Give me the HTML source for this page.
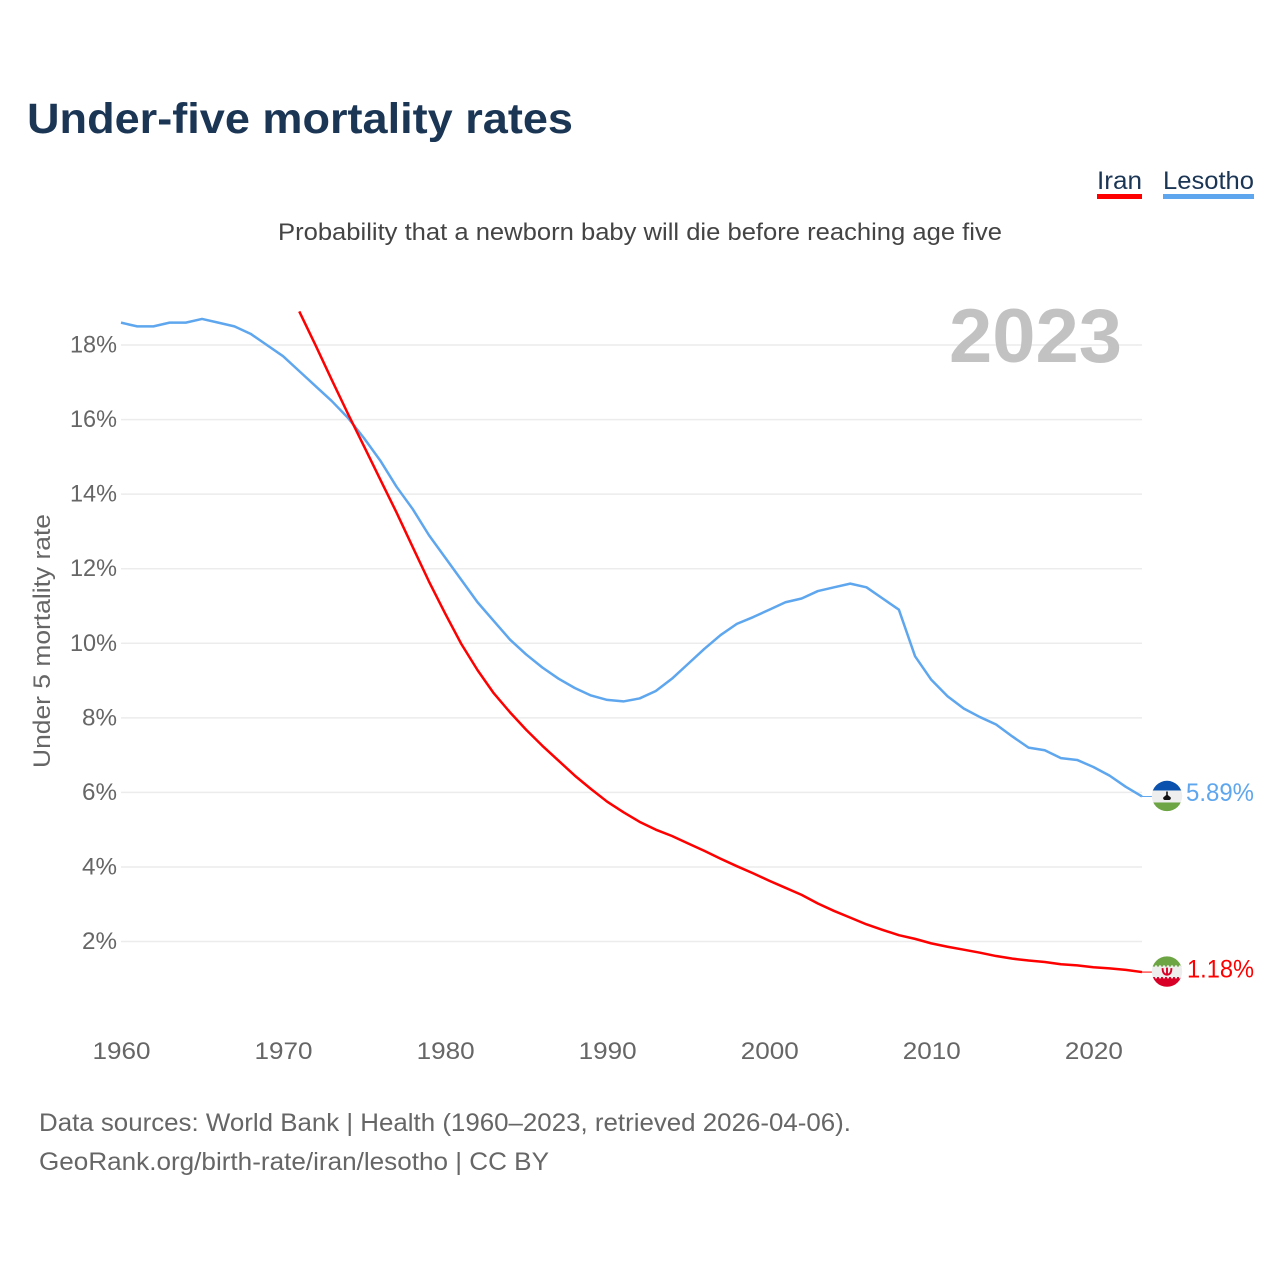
<!DOCTYPE html>
<html lang="en">
<head>
<meta charset="utf-8">
<title>Under-five mortality rates</title>
<style>
html,body{margin:0;padding:0;background:#fff;width:1280px;height:1280px;overflow:hidden}
svg{display:block;font-family:"Liberation Sans",sans-serif}
</style>
</head>
<body>
<svg id="chart" width="1280" height="1280" viewBox="0 0 1280 1280" xmlns="http://www.w3.org/2000/svg">
  <defs>
    <clipPath id="clip-lesotho"><circle id="clip-lesotho-circle" cx="1167" cy="795.5" r="15.2"/></clipPath>
    <clipPath id="clip-iran"><circle id="clip-iran-circle" cx="1167" cy="971.5" r="15.2"/></clipPath>
  </defs>
  <rect width="1280" height="1280" fill="#fff"/>
  <text x="27" y="133" font-size="43" font-weight="700" fill="#1b3555" textLength="546" lengthAdjust="spacingAndGlyphs">Under-five mortality rates</text>
  <text x="278" y="240" font-size="24" fill="#444" textLength="724" lengthAdjust="spacingAndGlyphs">Probability that a newborn baby will die before reaching age five</text>

  <g>
    <text x="1097" y="189" font-size="25" fill="#1b3555" textLength="45" lengthAdjust="spacingAndGlyphs">Iran</text>
    <rect x="1097" y="194" width="45" height="5" fill="#ff0000"/>
  </g>
  <g>
    <text x="1163" y="189" font-size="25" fill="#1b3555" textLength="91" lengthAdjust="spacingAndGlyphs">Lesotho</text>
    <rect x="1163" y="194" width="91" height="5" fill="#5ea6ee"/>
  </g>

  <g id="grid"></g>
  <g id="y-ticks"></g>
  <g id="x-ticks"></g>

  <text transform="translate(50,768) rotate(-90)" x="0" y="0" font-size="24" fill="#666" textLength="254" lengthAdjust="spacingAndGlyphs">Under 5 mortality rate</text>

  <text x="949" y="362" font-size="76" font-weight="700" fill="#c2c2c2" textLength="173" lengthAdjust="spacingAndGlyphs">2023</text>

  <line id="lead-lesotho" stroke="#5ea6ee" stroke-width="1"/>
  <line id="lead-iran" stroke="#ff0000" stroke-width="1"/>
  <path id="line-lesotho" fill="none" stroke="#5ea6ee" stroke-width="2.5" stroke-linejoin="round"/>
  <path id="line-iran" fill="none" stroke="#ff0000" stroke-width="2.5" stroke-linejoin="round"/>

  <g id="flag-lesotho" clip-path="url(#clip-lesotho)">
    <g id="flag-lesotho-inner">
      <rect x="1151" y="-16" width="32" height="32" fill="#eeeeee"/>
      <rect x="1151" y="-16" width="32" height="10.5" fill="#0a52ad"/>
      <rect x="1151" y="6.5" width="32" height="10" fill="#6da544"/>
      <path d="M1166.2 -4.5h1.6v3.5l3 2.5v1.5l-1.2 1h-5.2l-1.2-1v-1.5l3-2.5z" fill="#111"/>
    </g>
  </g>
  <g id="flag-iran" clip-path="url(#clip-iran)">
    <g id="flag-iran-inner">
      <rect x="1151" y="-16" width="32" height="32" fill="#eeeeee"/>
      <rect x="1151" y="-16" width="32" height="11" fill="#6da544"/>
      <rect x="1151" y="5.5" width="32" height="11" fill="#d80027"/>
      <line x1="1151" x2="1183" y1="-5" y2="-5" stroke="#eeeeee" stroke-width="2.5" stroke-dasharray="2 2"/>
      <line x1="1151" x2="1183" y1="5.5" y2="5.5" stroke="#eeeeee" stroke-width="2.5" stroke-dasharray="2 2"/>
      <path d="M1162.6 -3.5c0 5 2 6.5 4.4 6.5s4.4-1.5 4.4-6.5M1167 -4v8" fill="none" stroke="#d80027" stroke-width="1.9"/>
    </g>
  </g>

  <text id="value-lesotho" x="1186" font-size="25" fill="#5ea6ee" textLength="68" lengthAdjust="spacingAndGlyphs">5.89%</text>
  <text id="value-iran" x="1187" font-size="25" fill="#ff0000" textLength="67" lengthAdjust="spacingAndGlyphs">1.18%</text>

  <text x="39" y="1131" font-size="25" fill="#666" textLength="812" lengthAdjust="spacingAndGlyphs">Data sources: World Bank | Health (1960–2023, retrieved 2026-04-06).</text>
  <text x="39" y="1170" font-size="25" fill="#666" textLength="510" lengthAdjust="spacingAndGlyphs">GeoRank.org/birth-rate/iran/lesotho | CC BY</text>
</svg>
<script>
const lesothoStartYear = 1960;
const lesothoValues = [18.6,18.5,18.5,18.6,18.6,18.7,18.6,18.5,18.3,18.0,17.7,17.3,16.9,16.5,16.05,15.5,14.9,14.2,13.6,12.9,12.3,11.7,11.1,10.6,10.1,9.7,9.35,9.05,8.8,8.6,8.48,8.44,8.52,8.72,9.05,9.45,9.85,10.22,10.52,10.7,10.9,11.1,11.2,11.4,11.5,11.6,11.5,11.2,10.9,9.65,9.02,8.58,8.25,8.02,7.82,7.5,7.2,7.13,6.92,6.87,6.68,6.45,6.15,5.89];
const iranStartYear = 1971;
const iranValues = [18.9,18.0,17.07,16.16,15.28,14.39,13.51,12.58,11.66,10.8,9.98,9.28,8.66,8.15,7.68,7.25,6.85,6.45,6.09,5.75,5.47,5.21,5.0,4.83,4.63,4.43,4.22,4.02,3.83,3.63,3.44,3.25,3.02,2.82,2.64,2.46,2.31,2.17,2.07,1.95,1.86,1.78,1.70,1.61,1.54,1.49,1.45,1.39,1.36,1.31,1.28,1.24,1.18];
const yTickValues = [2,4,6,8,10,12,14,16,18];
const xTickYears = [1960,1970,1980,1990,2000,2010,2020];
const lastYear = 2023;

const xScale = function (year) { return 121 + (year - 1960) * 16.206; };
const yScale = function (value) { return 1016.06 - value * 37.28; };
const svgNS = 'http://www.w3.org/2000/svg';
const gridGroup = document.getElementById('grid');
const yGroup = document.getElementById('y-ticks');
const xGroup = document.getElementById('x-ticks');

yTickValues.forEach(function (v) {
  const line = document.createElementNS(svgNS, 'line');
  
  
  line.setAttribute('x1', xScale(1960));
  line.setAttribute('x2', xScale(lastYear));
  line.setAttribute('y1', yScale(v));
  line.setAttribute('y2', yScale(v));
  line.setAttribute('stroke', '#ececec');
  line.setAttribute('stroke-width', '1.5');
  gridGroup.appendChild(line);

  const label = document.createElementNS(svgNS, 'text');
  
  
  label.setAttribute('x', '117');
  label.setAttribute('y', yScale(v) + 7.5);
  label.setAttribute('text-anchor', 'end');
  label.setAttribute('font-size', '24');
  label.setAttribute('fill', '#666');
  label.setAttribute('textLength', v < 10 ? '35' : '47');
  label.setAttribute('lengthAdjust', 'spacingAndGlyphs');
  label.textContent = v + '%';
  yGroup.appendChild(label);
});

xTickYears.forEach(function (yr) {
  const label = document.createElementNS(svgNS, 'text');
  
  
  label.setAttribute('x', xScale(yr) + 0.5);
  label.setAttribute('y', '1059');
  label.setAttribute('text-anchor', 'middle');
  label.setAttribute('font-size', '24');
  label.setAttribute('fill', '#666');
  label.setAttribute('textLength', '58');
  label.setAttribute('lengthAdjust', 'spacingAndGlyphs');
  label.textContent = yr;
  xGroup.appendChild(label);
});

function linePath(values, startYear) {
  return values.map(function (v, i) {
    return (i ? 'L' : 'M') + xScale(startYear + i).toFixed(2) + ' ' + yScale(v).toFixed(2);
  }).join('');
}
document.getElementById('line-lesotho').setAttribute('d', linePath(lesothoValues, lesothoStartYear));
document.getElementById('line-iran').setAttribute('d', linePath(iranValues, iranStartYear));

function placeEnd(name, values, labelOffset) {
  const last = values[values.length - 1];
  const y = yScale(last);
  const lead = document.getElementById('lead-' + name);
  lead.setAttribute('x1', xScale(lastYear));
  lead.setAttribute('x2', '1152');
  lead.setAttribute('y1', y);
  lead.setAttribute('y2', y);
  const cy = y - 0.5;
  document.getElementById('clip-' + name + '-circle').setAttribute('cy', cy);
  document.getElementById('flag-' + name + '-inner').setAttribute('transform', 'translate(0 ' + cy + ')');
  const valueLabel = document.getElementById('value-' + name);
  valueLabel.setAttribute('y', y + labelOffset);
  valueLabel.textContent = last.toFixed(2) + '%';
}
placeEnd('lesotho', lesothoValues, 4.5);
placeEnd('iran', iranValues, 5.5);
</script>
</body>
</html>
